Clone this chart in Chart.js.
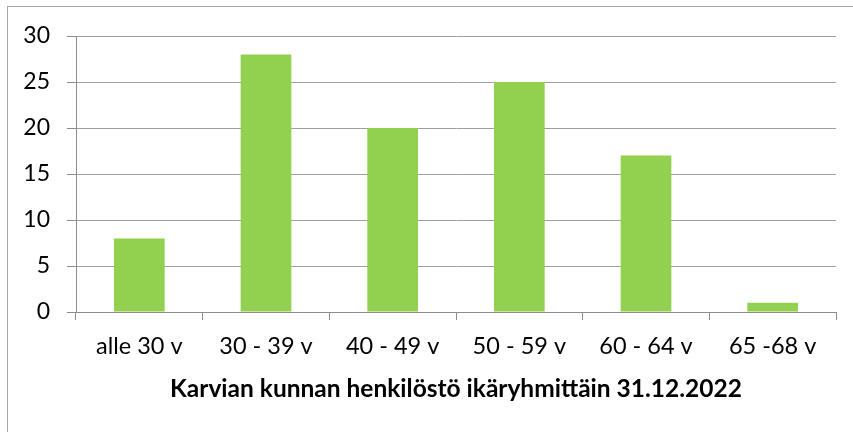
<!DOCTYPE html>
<html>
<head>
<meta charset="utf-8">
<script src="https://cdn.jsdelivr.net/npm/chart.js@4"></script>
<style>
html,body{margin:0;padding:0;background:#fff;overflow:hidden;}
#wrap{position:relative;width:853px;height:432px;}
#frame{position:absolute;left:7px;top:6px;width:850px;height:440px;border:1px solid #a6a6a6;box-sizing:border-box;}
canvas{position:absolute;left:0;top:0;}
</style>
</head>
<body>
<div id="wrap">
<div id="frame"></div>
<canvas id="c" width="853" height="432"></canvas>
</div>
<script>
const categories = ["alle 30 v", "30 - 39 v", "40 - 49 v", "50 - 59 v", "60 - 64 v", "65 -68 v"];
const values = [8, 28, 20, 25, 17, 1];
const yTicks = [0, 5, 10, 15, 20, 25, 30];
const axisTitle = "Karvian kunnan henkilöstö ikäryhmittäin 31.12.2022";

const FONT = "Lato";
new Chart(document.getElementById('c'), {
  type: 'bar',
  data: {
    labels: categories,
    datasets: [{
      data: values,
      backgroundColor: '#92d050',
      borderWidth: 0,
      barPercentage: 0.4,
      categoryPercentage: 1.0
    }]
  },
  options: {
    responsive: false,
    animation: false,
    events: [],
    layout: { padding: { left: 0, right: 17, top: 36, bottom: 0 } },
    plugins: { legend: { display: false }, tooltip: { enabled: false }, title: { display: false } },
    scales: {
      y: {
        min: 0, max: 30,
        afterBuildTicks: (s) => { s.ticks = yTicks.map(v => ({ value: v })); },
        afterFit: (s) => { s.width = 76; },
        border: { display: true, color: '#8c8c8c', width: 1 },
        grid: { color: '#a0a0a0', lineWidth: 1, tickLength: 9, drawTicks: true, tickColor: '#8c8c8c' },
        ticks: { color: '#000', font: { family: FONT, size: 23 }, padding: 17 }
      },
      x: {
        afterFit: (s) => { s.height = 120; },
        border: { display: true, color: '#8c8c8c', width: 1 },
        grid: { display: true, drawOnChartArea: false, tickLength: 8, color: '#8c8c8c', offset: true },
        ticks: { color: '#000', font: { family: FONT, size: 23.5 }, padding: 12, maxRotation: 0, autoSkip: false },
        title: {
          display: true, text: axisTitle, color: '#000',
          font: { family: FONT, size: 24.5, weight: 'bold' },
          padding: { top: 0, bottom: 28 }
        }
      }
    }
  }
});
</script>
</body>
</html>
